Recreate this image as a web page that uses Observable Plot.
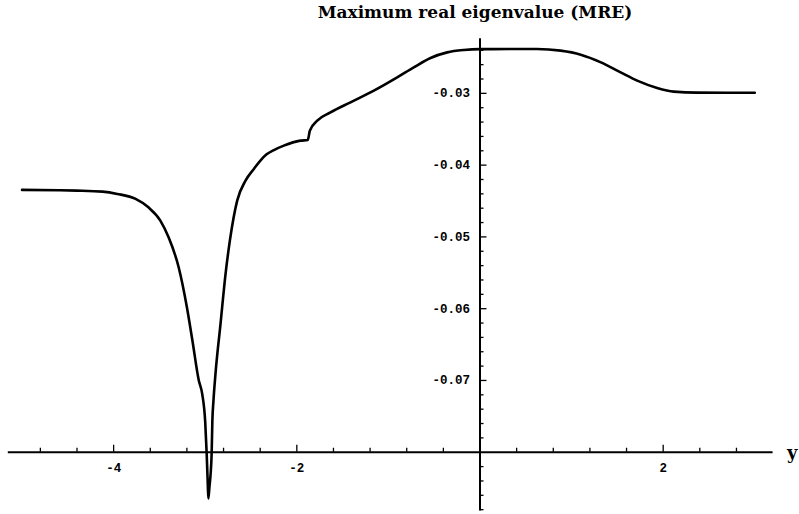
<!DOCTYPE html>
<html>
<head>
<meta charset="utf-8">
<script src="https://cdn.jsdelivr.net/npm/d3@7"></script>
<script src="https://cdn.jsdelivr.net/npm/@observablehq/plot@0.6"></script>
<style>
  html, body { margin: 0; padding: 0; background: #fff; }
  #wrap { position: relative; width: 799px; height: 514px; }
  #title { position: absolute; left: 0; top: 2px; width: 950px; text-align: center;
           font-family: "DejaVu Serif", serif; font-weight: bold; font-size: 17px; line-height: 21px; color: #000; white-space: nowrap; }
  svg { display: block; }
</style>
</head>
<body>
<div id="wrap"><div id="title"></div><div id="chart"></div></div>
<script>
// ---- data ----
const title = "Maximum real eigenvalue (MRE)";
const axisLabelX = "y";

const xValues = [
  -5.0, -4.6, -4.4, -4.12, -3.96, -3.76, -3.62, -3.49, -3.40, -3.29, -3.20, -3.14, -3.07, -3.033,
  -3.00, -2.984, -2.972, -2.966, -2.955, -2.93, -2.922, -2.91, -2.888, -2.833, -2.778, -2.731,
  -2.651, -2.560, -2.469, -2.400, -2.330, -2.250, -2.142, -1.960, -1.880, -1.858, -1.777, -1.632, -1.414,
  -1.159, -0.904, -0.723, -0.540, -0.358, -0.177, 0.0, 0.62, 0.88, 1.10, 1.32, 1.535, 1.716,
  1.934, 2.116, 2.371, 3.0
];
const mreValues = [
  -0.04345, -0.04350, -0.04355, -0.04369, -0.04401, -0.04471, -0.04588, -0.04773, -0.05006,
  -0.05423, -0.05981, -0.06444, -0.07001, -0.07187, -0.07582, -0.08022, -0.08450, -0.08645,
  -0.08500, -0.08020, -0.07560, -0.07280, -0.06908, -0.06212, -0.05515, -0.05052, -0.04494,
  -0.04216, -0.04053, -0.03940, -0.03850, -0.03790, -0.03728, -0.03659, -0.03649, -0.03520, -0.03380,
  -0.03265, -0.03125, -0.02962, -0.02777, -0.02638, -0.02507, -0.02429, -0.02396, -0.02384,
  -0.02382, -0.02405, -0.02461, -0.02568, -0.02708, -0.02823, -0.02925, -0.02976, -0.02990,
  -0.02992
];

const xMajorTicks = [-4, -2, 2];
const xTickLabels = ["-4", "-2", "2"];
const xMinorTicks = [-4.8, -4.4, -3.6, -3.2, -2.8, -2.4, -1.6, -1.2, -0.8, -0.4, 0.4, 0.8, 1.2, 1.6, 2.4, 2.8];
const yMajorTicks = [-0.03, -0.04, -0.05, -0.06, -0.07];
const yTickLabels = ["-0.03", "-0.04", "-0.05", "-0.06", "-0.07"];
const yMinorTicks = [-0.088, -0.086, -0.084, -0.082, -0.078, -0.076, -0.074, -0.072, -0.068, -0.066, -0.064,
  -0.062, -0.058, -0.056, -0.054, -0.052, -0.048, -0.046, -0.044, -0.042, -0.038, -0.036, -0.034, -0.032,
  -0.028, -0.026, -0.024];

const xDomain = [-5.15, 3.2];
const yDomain = [-0.0882, -0.0224];
const axisCrossY = -0.08;   // horizontal axis drawn at this value
const axisCrossX = 0;       // vertical axis drawn at this value

const points = xValues.map((x, i) => ({x, mre: mreValues[i]}));

const tickFont = {fontFamily: "Liberation Mono, monospace", fontSize: 12.5, fontWeight: "bold", fill: "black"};

const chart = Plot.plot({
  width: 799,
  height: 514,
  marginLeft: 7.8,
  marginRight: 26.4,
  marginTop: 38.3,
  marginBottom: 3.4,
  x: {domain: xDomain, axis: null},
  y: {domain: yDomain, axis: null},
  style: {background: "white", overflow: "visible"},
  marks: [
    Plot.ruleY([axisCrossY], {stroke: "black", strokeWidth: 2}),
    Plot.ruleX([axisCrossX], {stroke: "black", strokeWidth: 2}),
    // x ticks (pointing up from the horizontal axis)
    Plot.ruleX(xMajorTicks, {x: d => d, y1: () => axisCrossY, y2: () => axisCrossY, insetTop: -7, stroke: "black", strokeWidth: 1.3}),
    Plot.ruleX(xMinorTicks, {x: d => d, y1: () => axisCrossY, y2: () => axisCrossY, insetTop: -4, stroke: "black", strokeWidth: 1.3}),
    // y ticks (pointing right from the vertical axis)
    Plot.ruleY(yMajorTicks, {y: d => d, x1: () => axisCrossX, x2: () => axisCrossX, insetRight: -7, stroke: "black", strokeWidth: 1.3}),
    Plot.ruleY(yMinorTicks, {y: d => d, x1: () => axisCrossX, x2: () => axisCrossX, insetRight: -4, stroke: "black", strokeWidth: 1.3}),
    Plot.text(xMajorTicks, {x: d => d, y: () => axisCrossY, text: (d, i) => xTickLabels[i], dy: 16, ...tickFont}),
    Plot.text(yMajorTicks, {x: () => axisCrossX, y: d => d, text: (d, i) => yTickLabels[i], dx: -10, textAnchor: "end", ...tickFont}),
    Plot.text([axisLabelX], {x: () => xDomain[1], y: () => axisCrossY, text: d => d, dx: 14, dy: 1, textAnchor: "start",
      fontFamily: "DejaVu Serif, serif", fontWeight: "bold", fontSize: 18, fill: "black"}),
    Plot.line(points, {x: "x", y: "mre", stroke: "black", strokeWidth: 2.6, curve: "monotone-x"})
  ]
});

document.getElementById("chart").appendChild(chart);
document.getElementById("title").textContent = title;
</script>
</body>
</html>
